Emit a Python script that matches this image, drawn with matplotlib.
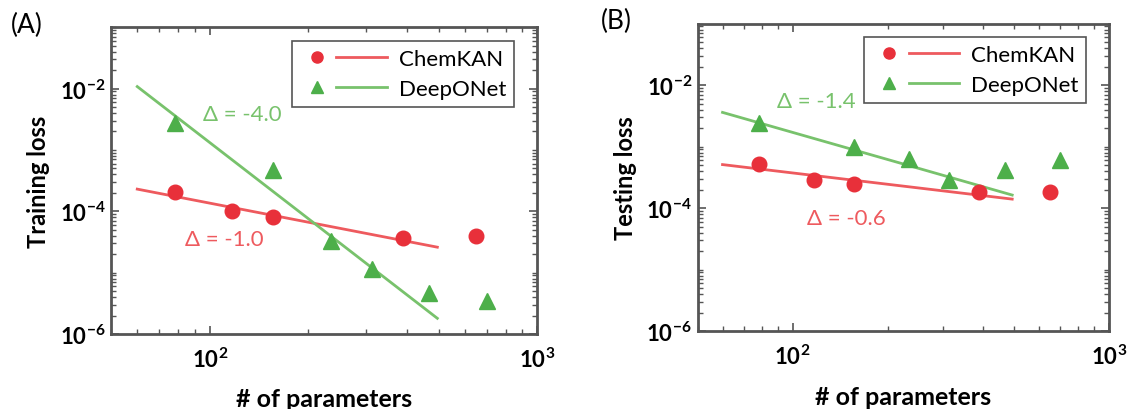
import numpy as np
import matplotlib
matplotlib.use("Agg")
import matplotlib.pyplot as plt
from matplotlib.ticker import LogLocator, NullFormatter, FixedLocator
from matplotlib.lines import Line2D

plt.rcParams["font.family"] = ["Lato", "DejaVu Sans"]
plt.rcParams["mathtext.fontset"] = "custom"
plt.rcParams["mathtext.rm"] = "Lato:bold"
plt.rcParams["mathtext.bf"] = "Lato:bold"

# --- data ---
kan_params = [78, 117, 156, 390, 650]
don_params = [78, 156, 234, 312, 468, 702]

train_kan = [2.1e-4, 1.0e-4, 8.1e-5, 3.7e-5, 4.0e-5]
train_don = [2.8e-3, 4.8e-4, 3.3e-5, 1.16e-5, 4.7e-6, 3.4e-6]
test_kan = [5.2e-4, 2.85e-4, 2.45e-4, 1.8e-4, 1.85e-4]
test_don = [2.4e-3, 1.0e-3, 6.3e-4, 2.85e-4, 4.2e-4, 6.0e-4]

# power-law fit lines (end points)
fit_x = [60, 495]
train_kan_fit = [2.3e-4, 2.6e-5]
train_don_fit = [1.08e-2, 1.8e-6]
test_kan_fit = [5.1e-4, 1.4e-4]
test_don_fit = [3.6e-3, 1.63e-4]

slopes_train = ["-1.0", "-4.0"]
slopes_test = ["-0.6", "-1.4"]

red = "#E8303A"
red_line = "#EE5A5E"
green = "#4DAF4A"
green_line = "#78C26C"
box = "#555555"


class MarkerThenLine:
    # legend key: a marker on the left, then a short line segment
    def legend_artist(self, legend, orig_handle, fontsize, handlebox):
        marker, color, lcolor = orig_handle
        x0, y0 = handlebox.xdescent, handlebox.ydescent
        w, h = handlebox.width, handlebox.height
        m = Line2D([x0 + 0.19 * w], [y0 + h / 2], marker=marker, color=color,
                   ms=8, ls="none", transform=handlebox.get_transform())
        ln = Line2D([x0 + 0.41 * w, x0 + 0.98 * w], [y0 + h / 2, y0 + h / 2],
                    color=lcolor, lw=2, transform=handlebox.get_transform())
        handlebox.add_artist(ln)
        handlebox.add_artist(m)
        return ln


fig = plt.figure(figsize=(11.36, 4.1), dpi=100)
ax1 = fig.add_axes([0.098, 0.183, 0.375, 0.748])
ax2 = fig.add_axes([0.614, 0.19, 0.362, 0.75])


def draw(ax, kan, don, kfit, dfit, ylabel, tag, kslope, dslope, kpos, dpos):
    ax.plot(fit_x, kfit, color=red_line, lw=2)
    ax.plot(fit_x, dfit, color=green_line, lw=2)
    ax.plot(kan_params, kan, "o", color=red, ms=10.5, ls="none")
    ax.plot(don_params, don, "^", color=green, ms=11.5, ls="none")
    ax.set_xscale("log")
    ax.set_yscale("log")
    ax.set_xlim(50, 1000)
    ax.set_ylim(1e-6, 1e-1)
    ax.yaxis.set_major_locator(FixedLocator([1e-6, 1e-4, 1e-2]))
    ax.yaxis.set_minor_locator(LogLocator(base=10, subs=np.arange(1, 10), numticks=20))
    ax.yaxis.set_minor_formatter(NullFormatter())
    ax.xaxis.set_major_locator(FixedLocator([100, 1000]))
    ax.xaxis.set_minor_locator(LogLocator(base=10, subs=np.arange(2, 10), numticks=20))
    ax.xaxis.set_minor_formatter(NullFormatter())
    ax.set_yticklabels([r"$10^{-6}$", r"$10^{-4}$", r"$10^{-2}$"])
    ax.set_xticklabels([r"$10^{2}$", r"$10^{3}$"])
    ax.tick_params(which="both", direction="in", top=True, right=True,
                   color=box, labelsize=16)
    ax.tick_params(axis="y", pad=4)
    ax.tick_params(axis="x", pad=9)
    ax.tick_params(which="major", length=6, width=1.2)
    ax.tick_params(which="minor", length=3.5, width=1)
    for s in ax.spines.values():
        s.set_color(box)
        s.set_linewidth(2)
    ax.set_xlabel("# of parameters", fontsize=18, fontweight="bold", labelpad=12)
    ax.set_ylabel(ylabel, fontsize=17, fontweight="bold", labelpad=7)
    ax.text(dpos[0], dpos[1], "Δ = " + dslope, color=green_line, fontsize=16, va="center")
    ax.text(kpos[0], kpos[1], "Δ = " + kslope, color=red_line, fontsize=16, va="center")
    ax.text(-0.235, 1.01, tag, transform=ax.transAxes, fontsize=19, va="center")

    leg = ax.legend([("o", red, red_line), ("^", green, green_line)],
                    ["ChemKAN", "DeepONet"],
                    handler_map={tuple: MarkerThenLine()},
                    loc="upper right", bbox_to_anchor=(0.945, 0.955),
                    fontsize=16, handlelength=4.0, fancybox=False,
                    edgecolor=box, framealpha=1, borderpad=0.35,
                    labelspacing=0.45, handletextpad=0.45, borderaxespad=0)
    leg.get_frame().set_linewidth(1.2)


draw(ax1, train_kan, train_don, train_kan_fit, train_don_fit, "Training loss", "(A)",
     slopes_train[0], slopes_train[1], (84, 3.6e-5), (95, 3.8e-3))
draw(ax2, test_kan, test_don, test_kan_fit, test_don_fit, "Testing loss", "(B)",
     slopes_test[0], slopes_test[1], (111, 6.9e-5), (89, 5.6e-3))

fig.savefig("out.png", dpi=100)
